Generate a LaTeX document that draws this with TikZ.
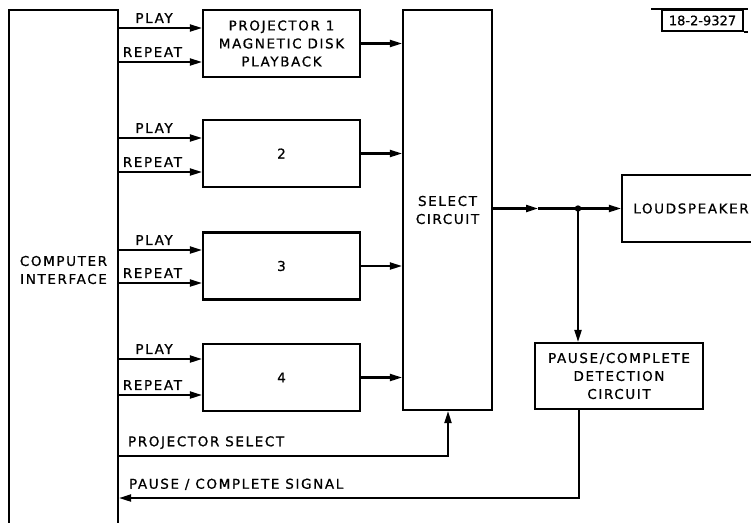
\documentclass[tikz,border=0pt]{standalone}
\usepackage{fontspec}
\setmainfont[LetterSpace=12,FakeBold=0.8]{DejaVu Sans}
\usetikzlibrary{positioning,arrows.meta}

\begin{document}
\begin{tikzpicture}[x=1pt, y=-1pt,
line width=2.1pt,
txt/.style={font=\fontsize{13.5}{18}\selectfont},
lbl/.style={txt, inner sep=1pt},
box/.style={draw, txt, line width=2.1pt, minimum width=157pt, minimum height=67pt, align=center},
arrow/.style={-{Triangle[length=12pt,width=7pt]}}
]
\useasboundingbox (0,0) rectangle (751,522);

% main blocks
\node[box, minimum width=109pt, minimum height=520pt] (comp) at (63.5,270) {COMPUTER\\INTERFACE};
\node[box] (p1) at (281.5,43.5) {PROJECTOR 1\\MAGNETIC DISK\\PLAYBACK};
\node[box] (p2) at (281.5,153.5) {2};
\node[box] (p3) at (281.5,266) {3};
\node[box] (p4) at (281.5,377.5) {4};
\node[box, minimum width=89pt, minimum height=400pt] (sel) at (447.5,210) {SELECT\\CIRCUIT};
\node[box, minimum width=138pt, minimum height=67pt] (spk) at (691,208.5) {LOUDSPEAKER};
\node[box, minimum width=168pt, minimum height=66pt] (det) at (619,376) {PAUSE/COMPLETE\\DETECTION\\CIRCUIT};
\node[draw, line width=1.8pt, minimum width=81pt, minimum height=21pt, inner sep=1pt, font=\fontsize{13}{15}\selectfont\addfontfeature{LetterSpace=0}] (tag) at (702.5,20.5) {18-2-9327};
\draw[line width=1.8pt] ([xshift=-10pt]tag.north west) -- ([xshift=4pt]tag.north east);
\draw[line width=1.8pt] (tag.south east) -- ([xshift=4pt]tag.south east);

% play / repeat lines
\coordinate (p1play) at (118,28);  \coordinate (p1rep) at (118,62);
\coordinate (p2play) at (118,138); \coordinate (p2rep) at (118,172);
\coordinate (p3play) at (118,250); \coordinate (p3rep) at (118,283);
\coordinate (p4play) at (118,359); \coordinate (p4rep) at (118,395);
\draw[arrow] (p1play) -- node[lbl, above=3pt, pos=0.43] (pl1) {PLAY} (p1play -| p1.west);
\draw[arrow] (p1rep) -- node[lbl, above=3pt, pos=0.41] (rp1) {REPEAT} (p1rep -| p1.west);
\draw[arrow] (p2play) -- node[lbl, above=3pt, pos=0.43] (pl2) {PLAY} (p2play -| p2.west);
\draw[arrow] (p2rep) -- node[lbl, above=3pt, pos=0.41] (rp2) {REPEAT} (p2rep -| p2.west);
\draw[arrow] (p3play) -- node[lbl, above=3pt, pos=0.43] (pl3) {PLAY} (p3play -| p3.west);
\draw[arrow] (p3rep) -- node[lbl, above=3pt, pos=0.41] (rp3) {REPEAT} (p3rep -| p3.west);
\draw[arrow] (p4play) -- node[lbl, above=3pt, pos=0.43] (pl4) {PLAY} (p4play -| p4.west);
\draw[arrow] (p4rep) -- node[lbl, above=3pt, pos=0.41] (rp4) {REPEAT} (p4rep -| p4.west);

% projector outputs
\draw[arrow] (p1.east) -- (p1.east -| sel.west);
\draw[arrow] (p2.east) -- (p2.east -| sel.west);
\draw[arrow] (p3.east) -- (p3.east -| sel.west);
\draw[arrow] (p4.east) -- (p4.east -| sel.west);

% audio out
\coordinate (jn) at (578,208.5);
\coordinate (mid) at (538,208.5);
\draw[arrow] (sel.east |- jn) -- (mid);
\draw (mid) -- (jn);
\fill (jn) circle (3.2pt);
\draw[arrow] (jn) -- (jn -| spk.west);
\draw[arrow] (jn) -- (jn |- det.north);

% control lines
\coordinate (psel) at (448,456);
\draw[arrow] (psel -| comp.east) -- (psel) -- (psel |- sel.south);
\node[lbl, anchor=south west] (pslbl) at (126,451) {PROJECTOR SELECT};
\coordinate (ret) at (579,498);
\draw[arrow] (det.south -| ret) -- (ret) -- (ret -| comp.east);
\node[lbl, anchor=south west] (pclbl) at (127,492) {PAUSE / COMPLETE SIGNAL};
\end{tikzpicture}
\end{document}
